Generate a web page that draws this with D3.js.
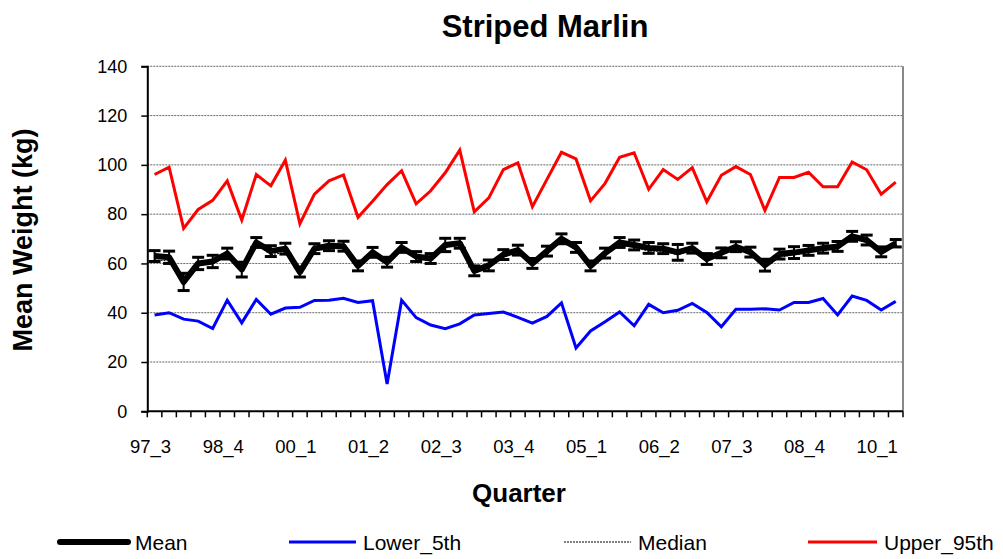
<!DOCTYPE html>
<html>
<head>
<meta charset="utf-8">
<script src="https://cdn.jsdelivr.net/npm/d3@7"></script>
<style>
  html, body { margin: 0; padding: 0; background: #fff; }
  svg { display: block; font-family: Arial, "Liberation Sans", sans-serif; }
</style>
</head>
<body>
<svg id="chart" width="1003" height="559"></svg>
<script>
// Quarterly categories (year_quarter)
const quarters = ["97_3","97_4","98_1","98_2","98_3","98_4","99_1","99_2","99_3","99_4",
  "00_1","00_2","00_3","00_4","01_1","01_2","01_3","01_4","02_1","02_2",
  "02_3","02_4","03_1","03_2","03_3","03_4","04_1","04_2","04_3","04_4",
  "05_1","05_2","05_3","05_4","06_1","06_2","06_3","06_4","07_1","07_2",
  "07_3","07_4","08_1","08_2","08_3","08_4","09_1","09_2","09_3","09_4",
  "10_1","10_2"];

// Mean weight (kg) per quarter
const meanWeight = [63,62.5,52.5,60,60.8,64,57.5,68.5,65,66,
  56.5,66,67.2,67,59,64.5,60.5,66.5,62.8,62,
  67.5,68.2,57,59.2,63.6,65.4,60,65,70,66.5,
  59,64.2,68.5,67.5,66.3,66,64.5,66.2,61.8,64.3,
  66.8,64.6,59.3,63.8,64.4,65.3,66.2,66.9,71,69.5,
  64.7,68.2];

// Half-width of the error bar on the mean
const meanError = [2.2,2.5,3.5,2.5,2.5,2.2,3,2,2.2,2.2,
  2,2,2,2,2,2,2,2,2,2,
  2.7,2,2,2.2,2,2,2,2,2,2,
  2,2,2,2,2.2,2,3.2,2,2.2,2,
  2,2,2.4,2,2.4,2,2,2,2,2,
  2,1.5];

// Lower 5th percentile
const lower5th = [39.1,40,37.4,36.6,33.6,45.1,35.9,45.4,39.4,41.9,
  42.2,45,45.1,45.9,44.2,44.9,11.1,45.1,38,35,
  33.5,35.5,39.1,39.7,40.3,38.1,35.8,38.5,44,25.7,
  32.6,36.3,40.3,34.7,43.4,40,41,43.8,40.1,34.3,
  41.4,41.4,41.6,41.1,44.2,44.2,45.8,39.1,46.8,45,
  41.1,44.6];

// Median
const median = [61.5,61,51,59.5,59.8,63,57,67.5,63.5,64.5,
  55.5,65,66,66,58.5,63.5,60,66,62,61,
  66.5,67.5,56,58.5,62.5,64.5,59.5,63.5,69,65.5,
  58.5,63,67.5,66.5,65,65,63.5,65.5,61,63.5,
  66,63.5,58.5,62.5,63.5,64.5,65.5,66,70,68.5,
  64,67.5];

// Upper 95th percentile
const upper95th = [96.1,99.1,74.2,81.9,85.6,93.5,77.6,96.1,91.5,101.9,
  76.1,88.1,93.5,95.9,78.7,85.2,92,97.6,84.2,89.5,
  96.8,106,80.9,86.6,98.1,100.8,83,94.1,105.1,102.4,
  85.4,92.5,103.1,104.9,90.1,98.1,94.1,98.9,85,95.8,
  99.3,96.1,81.5,94.9,94.9,97,91.1,91.1,101.2,98,
  88.1,93];

const yTicks = [0,20,40,60,80,100,120,140];
const xLabelEvery = 5;

const svg = d3.select("#chart");
const plot = { left: 147.3, right: 903, top: 66.3, bottom: 411.3 };

const x = d3.scaleBand().domain(quarters).range([plot.left, plot.right]).paddingInner(0).paddingOuter(0);
const y = d3.scaleLinear().domain([0, 140]).range([plot.bottom, plot.top]);
const cx = q => x(q) + x.bandwidth() / 2;

// Horizontal gridlines
svg.append("g").selectAll("line").data(yTicks.filter(d => d > 0)).join("line")
  .attr("x1", plot.left).attr("x2", plot.right)
  .attr("y1", d => y(d)).attr("y2", d => y(d))
  .attr("stroke", "#666").attr("stroke-width", 1).attr("stroke-dasharray", "2,1");

// Plot frame, right side
svg.append("line")
  .attr("x1", plot.right).attr("x2", plot.right)
  .attr("y1", plot.top).attr("y2", plot.bottom)
  .attr("stroke", "#888").attr("stroke-width", 2);

// Y axis
const yAxis = d3.axisLeft(y).tickValues(yTicks).tickSize(6).tickPadding(14).tickFormat(d3.format("d"));
const gy = svg.append("g").attr("transform", `translate(${plot.left},0)`).call(yAxis);
gy.select(".domain").attr("stroke", "#000").attr("stroke-width", 2);
gy.selectAll(".tick line").attr("stroke", "#000").attr("stroke-width", 1.5);
gy.selectAll(".tick text").attr("font-size", 18).attr("fill", "#000")
  .attr("font-family", "Arial, 'Liberation Sans', sans-serif");

// X axis: tick marks at category boundaries, labels every fifth quarter
const gx = svg.append("g").attr("transform", `translate(0,${plot.bottom})`);
gx.append("line").attr("x1", plot.left).attr("x2", plot.right)
  .attr("stroke", "#000").attr("stroke-width", 2);
const boundaries = quarters.map(q => x(q)).concat([x(quarters[quarters.length - 1]) + x.bandwidth()]);
gx.selectAll("line.tk").data(boundaries).join("line").attr("class", "tk")
  .attr("x1", d => d).attr("x2", d => d).attr("y1", 0).attr("y2", 6)
  .attr("stroke", "#000").attr("stroke-width", 1.5);
gx.selectAll("text").data(quarters.filter((q, i) => i % xLabelEvery === 0)).join("text")
  .attr("x", d => cx(d) - 4).attr("y", 42)
  .attr("text-anchor", "middle").attr("font-size", 18.5).attr("fill", "#000")
  .text(d => d);

// Series lines
const line = vals => d3.line().x((d, i) => cx(quarters[i])).y(d => y(d))(vals);

svg.append("path").attr("d", line(meanWeight)).attr("fill", "none")
  .attr("stroke", "#000").attr("stroke-width", 6).attr("stroke-linejoin", "round");

// Error bars on the mean
const eb = svg.append("g").attr("stroke", "#000");
meanWeight.forEach((m, i) => {
  const px = cx(quarters[i]);
  const lo = y(m - meanError[i]), hi = y(m + meanError[i]);
  eb.append("line").attr("x1", px).attr("x2", px).attr("y1", lo).attr("y2", hi).attr("stroke-width", 2);
  eb.append("line").attr("x1", px - 6).attr("x2", px + 6).attr("y1", lo).attr("y2", lo).attr("stroke-width", 3);
  eb.append("line").attr("x1", px - 6).attr("x2", px + 6).attr("y1", hi).attr("y2", hi).attr("stroke-width", 3);
});

svg.append("path").attr("d", line(lower5th)).attr("fill", "none")
  .attr("stroke", "#0000ff").attr("stroke-width", 3).attr("stroke-linejoin", "miter");

svg.append("path").attr("d", line(median)).attr("fill", "none")
  .attr("stroke", "#000").attr("stroke-width", 1).attr("stroke-dasharray", "2,1");

svg.append("path").attr("d", line(upper95th)).attr("fill", "none")
  .attr("stroke", "#ff0000").attr("stroke-width", 3).attr("stroke-linejoin", "miter");

// Titles
svg.append("text").attr("x", 545).attr("y", 37).attr("text-anchor", "middle")
  .attr("font-size", 31).attr("font-weight", "bold").text("Striped Marlin");
svg.append("text").attr("x", 519).attr("y", 502).attr("text-anchor", "middle")
  .attr("font-size", 26).attr("font-weight", "bold").text("Quarter");
svg.append("text").attr("transform", "translate(32,240) rotate(-90)").attr("text-anchor", "middle")
  .attr("font-size", 27).attr("font-weight", "bold").text("Mean Weight (kg)");

// Legend
const legend = [
  { name: "Mean", color: "#000", width: 6, dash: null, x1: 60, x2: 128 },
  { name: "Lower_5th", color: "#0000ff", width: 3, dash: null, x1: 289, x2: 356 },
  { name: "Median", color: "#000", width: 1, dash: "2,1", x1: 564, x2: 631 },
  { name: "Upper_95th", color: "#ff0000", width: 3, dash: null, x1: 808, x2: 877 }
];
const lg = svg.append("g");
legend.forEach(l => {
  lg.append("line").attr("x1", l.x1).attr("x2", l.x2).attr("y1", 542).attr("y2", 542)
    .attr("stroke", l.color).attr("stroke-width", l.width)
    .attr("stroke-linecap", l.width > 4 ? "round" : "butt")
    .attr("stroke-dasharray", l.dash);
  lg.append("text").attr("x", l.x2 + 7).attr("y", 550).attr("font-size", 21).text(l.name);
});
</script>
</body>
</html>
